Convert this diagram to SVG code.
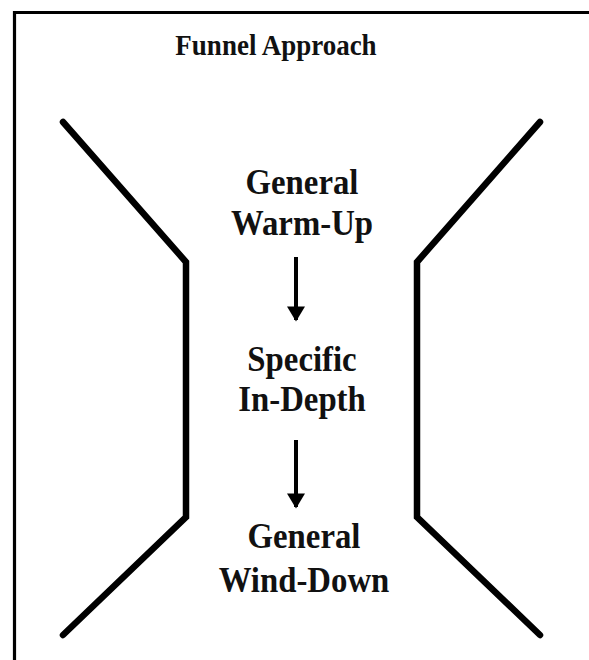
<svg xmlns="http://www.w3.org/2000/svg" width="589" height="660" viewBox="0 0 589 660">
<style>
.t{font-family:"Liberation Serif","Times New Roman",serif;font-weight:bold;fill:#111;text-anchor:middle}
.lbl{font-size:32.8px}
.side{fill:none;stroke:#000;stroke-width:6.5;stroke-linejoin:miter;stroke-linecap:round}
.conn{stroke:#000;stroke-width:4}
</style>
<defs>
<marker id="ah" viewBox="0 0 10 12" refX="9" refY="6" markerWidth="5.5" markerHeight="4.5" markerUnits="strokeWidth" orient="auto">
<path d="M0,0 L10,6 L0,12 Z" fill="#000"/>
</marker>
</defs>
<rect x="0" y="0" width="589" height="660" fill="#fff"/>
<path d="M14.5,665 V12.5 H595" fill="none" stroke="#000" stroke-width="3.2"/>
<g id="title"><text class="t" transform="translate(276,55) scale(1,1.1)" font-size="27">Funnel Approach</text></g>
<g id="funnel-left"><path class="side" d="M63,122 L186,262 L186,517 L63,635"/></g>
<g id="funnel-right"><path class="side" d="M540,122 L417,262 L417,517 L540,635"/></g>
<g id="warmup"><text class="t lbl" transform="translate(302,194) scale(1,1.1)">General</text><text class="t lbl" transform="translate(302,235) scale(1,1.1)">Warm-Up</text></g>
<g id="indepth"><text class="t lbl" transform="translate(302,371) scale(1,1.1)">Specific</text><text class="t lbl" transform="translate(302,411) scale(1,1.1)">In-Depth</text></g>
<g id="winddown"><text class="t lbl" transform="translate(304,548) scale(1,1.1)">General</text><text class="t lbl" transform="translate(304,592) scale(1,1.1)">Wind-Down</text></g>
<g id="connectors">
<line class="conn" x1="296" y1="257" x2="296" y2="320" marker-end="url(#ah)"/>
<line class="conn" x1="296" y1="440" x2="296" y2="507" marker-end="url(#ah)"/>
</g>
</svg>
